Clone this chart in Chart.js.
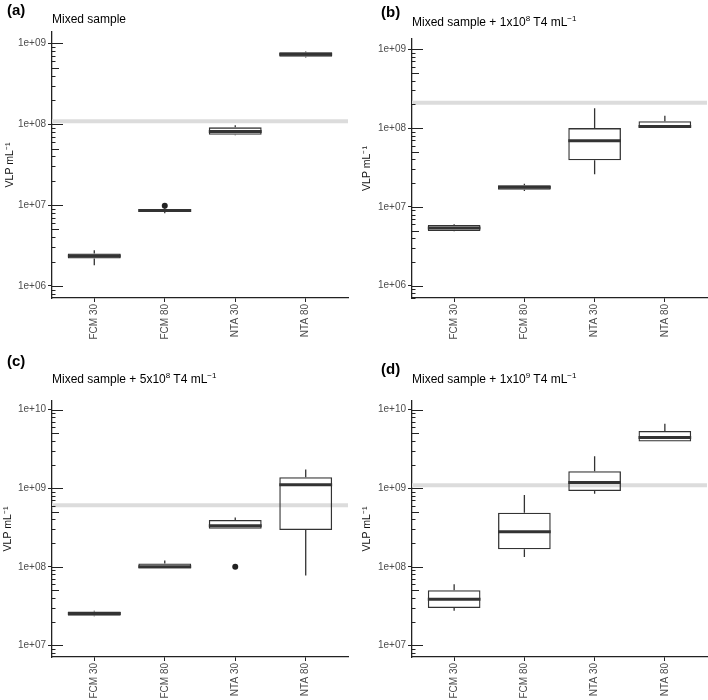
<!DOCTYPE html>
<html>
<head>
<meta charset="utf-8">
<script src="https://cdn.jsdelivr.net/npm/chart.js@4.4.0/dist/chart.umd.min.js"></script>
<style>
  body { margin: 0; background: #fff; }
  #wrap { position: relative; width: 708px; height: 700px; font-family: "Liberation Sans", Arial, sans-serif; }
  canvas { position: absolute; }
  .lab { position: absolute; font-weight: bold; font-size: 15px; line-height: 15px; color: #000; }
  .ttl { position: absolute; font-size: 12px; line-height: 12px; color: #000; white-space: nowrap; }
  .sp { font-size: 8px; position: relative; top: -5px; }
</style>
</head>
<body>
<div id="wrap">
  <canvas id="pa" width="354" height="350" style="left:0;top:0"></canvas>
  <canvas id="pb" width="354" height="350" style="left:354px;top:0"></canvas>
  <canvas id="pc" width="354" height="350" style="left:0;top:350px"></canvas>
  <canvas id="pd" width="354" height="350" style="left:354px;top:350px"></canvas>

  <div class="lab" style="left:7px;top:2px">(a)</div>
  <div class="ttl" style="left:52px;top:13px">Mixed sample</div>
  <div class="lab" style="left:381px;top:4px">(b)</div>
  <div class="ttl" style="left:412px;top:16px">Mixed sample + 1x10<span class="sp">8</span> T4 mL<span class="sp">−1</span></div>
  <div class="lab" style="left:7px;top:353px">(c)</div>
  <div class="ttl" style="left:52px;top:373px">Mixed sample + 5x10<span class="sp">8</span> T4 mL<span class="sp">−1</span></div>
  <div class="lab" style="left:381px;top:361px">(d)</div>
  <div class="ttl" style="left:412px;top:373px">Mixed sample + 1x10<span class="sp">9</span> T4 mL<span class="sp">−1</span></div>
</div>

<script>
var categories = ['FCM 30', 'FCM 80', 'NTA 30', 'NTA 80'];

// (a) Mixed sample
var lowA  = [1.81e6, 7.9e6, 7.3e7, 6.7e8];
var q1A   = [2.19e6, 8.19e6, 7.42e7, 6.84e8];
var medA  = [2.34e6, 8.55e6, 8.15e7, 7.3e8];
var q3A   = [2.52e6, 8.93e6, 9.14e7, 7.74e8];
var highA = [2.77e6, 9.3e6, 9.7e7, 7.9e8];
var outCatA = [2];
var outValA = [9.8e6];
var refA = 1.09e8;
var yTicksA = [1e6, 1e7, 1e8, 1e9];

// (b) + 1x10^8 T4
var lowB  = [4.9e6, 1.59e7, 2.59e7, 1.02e8];
var q1B   = [4.94e6, 1.65e7, 3.9e7, 1.02e8];
var medB  = [5.39e6, 1.77e7, 6.92e7, 1.05e8];
var q3B   = [5.89e6, 1.88e7, 1.0e8, 1.22e8];
var highB = [6.0e6, 1.97e7, 1.78e8, 1.43e8];
var outCatB = [];
var outValB = [];
var refB = 2.09e8;
var yTicksB = [1e6, 1e7, 1e8, 1e9];

// (c) + 5x10^8 T4
var lowC  = [2.35e7, 9.49e7, 3.05e8, 7.73e7];
var q1C   = [2.38e7, 9.49e7, 3.05e8, 2.94e8];
var medC  = [2.54e7, 1.0e8, 3.33e8, 1.11e9];
var q3C   = [2.7e7, 1.1e8, 3.94e8, 1.38e9];
var highC = [2.75e7, 1.2e8, 4.25e8, 1.73e9];
var outCatC = [3];
var outValC = [1.0e8];
var refC = 6.09e8;
var yTicksC = [1e7, 1e8, 1e9, 1e10];

// (d) + 1x10^9 T4
var lowD  = [2.75e7, 1.33e8, 8.5e8, 3.93e9];
var q1D   = [2.98e7, 1.67e8, 9.19e8, 3.93e9];
var medD  = [3.87e7, 2.8e8, 1.18e9, 4.41e9];
var q3D   = [5.04e7, 4.88e8, 1.65e9, 5.36e9];
var highD = [6.0e7, 8.17e8, 2.56e9, 6.64e9];
var outCatD = [];
var outValD = [];
var refD = 1.09e9;
var yTicksD = [1e7, 1e8, 1e9, 1e10];

Chart.defaults.font.family = '"Liberation Sans", Arial, sans-serif';
Chart.defaults.animation = false;

function fmtExp(v) {
    var e = Math.round(Math.log10(v));
    return '1e+' + (e < 10 ? '0' + e : e);
}

function makePanel(p) {
    var ctx = document.getElementById(p.id).getContext('2d');

    var boxData = categories.map(function (c, i) {
        return {x: i + 1, y: [p.q1[i], p.q3[i]]};
    });
    var outData = p.outCat.map(function (c, i) {
        return {x: c, y: p.outVal[i]};
    });

    // reference line, whiskers, medians and log ticks
    var boxExtras = {
        id: 'boxExtras',
        beforeDatasetsDraw: function (chart) {
            var c = chart.ctx, a = chart.chartArea;
            var y = chart.scales.y.getPixelForValue(p.ref);
            c.save();
            c.strokeStyle = '#dcdcdc';
            c.lineWidth = 4;
            c.beginPath();
            c.moveTo(a.left, y);
            c.lineTo(a.right, y);
            c.stroke();
            c.restore();
        },
        afterDatasetsDraw: function (chart) {
            var c = chart.ctx, ys = chart.scales.y, a = chart.chartArea;
            var meta = chart.getDatasetMeta(0);
            c.save();
            c.strokeStyle = '#333';
            meta.data.forEach(function (bar, i) {
                var x = bar.x, half = bar.width / 2;
                c.lineWidth = 1.3;
                c.beginPath();
                c.moveTo(x, ys.getPixelForValue(p.q3[i]));
                c.lineTo(x, ys.getPixelForValue(p.high[i]));
                c.moveTo(x, ys.getPixelForValue(p.q1[i]));
                c.lineTo(x, ys.getPixelForValue(p.low[i]));
                c.stroke();
                var m = ys.getPixelForValue(p.med[i]);
                c.lineWidth = 3;
                c.beginPath();
                c.moveTo(x - half, m);
                c.lineTo(x + half, m);
                c.stroke();
            });

            c.strokeStyle = '#222';
            c.lineWidth = 1;
            var lo = Math.floor(Math.log10(ys.min)), hi = Math.ceil(Math.log10(ys.max));
            for (var d = lo; d <= hi; d++) {
                for (var k = 1; k <= 9; k++) {
                    var v = k * Math.pow(10, d);
                    if (v < ys.min || v > ys.max) continue;
                    var y = Math.round(ys.getPixelForValue(v)) + 0.5;
                    var len = k === 1 ? 11 : (k === 5 ? 7 : 3.5);
                    c.beginPath();
                    c.moveTo(a.left, y);
                    c.lineTo(a.left + len, y);
                    c.stroke();
                }
            }
            c.restore();
        }
    };

    var axisBorder = {display: true, color: '#222', width: 1.3};

    new Chart(ctx, {
        type: 'bar',
        data: {
            datasets: [{
                type: 'bar',
                data: boxData,
                backgroundColor: 'rgba(0,0,0,0)',
                borderColor: '#333',
                borderWidth: 1.3,
                borderSkipped: false,
                barPercentage: 0.75,
                categoryPercentage: 1
            }, {
                type: 'scatter',
                data: outData,
                pointRadius: 3,
                backgroundColor: '#222',
                borderWidth: 0
            }]
        },
        options: {
            responsive: false,
            layout: {padding: {top: p.top, right: 354 - p.right, left: 0, bottom: 0}},
            plugins: {legend: {display: false}, tooltip: {enabled: false}},
            scales: {
                x: {
                    type: 'linear',
                    min: 0.4,
                    max: 4.6,
                    offset: false,
                    afterBuildTicks: function (s) {
                        s.ticks = categories.map(function (c, i) { return {value: i + 1}; });
                    },
                    ticks: {
                        callback: function (v) { return categories[v - 1]; },
                        autoSkip: false,
                        minRotation: 90,
                        maxRotation: 90,
                        padding: 2,
                        color: '#4d4d4d',
                        font: {size: 10}
                    },
                    grid: {display: true, offset: false, drawOnChartArea: false, drawTicks: true, tickLength: 4, tickColor: '#222', tickWidth: 1},
                    border: axisBorder,
                    afterFit: function (s) { s.height = 350 - p.bottom; }
                },
                y: {
                    type: 'logarithmic',
                    min: p.min,
                    max: p.max,
                    afterBuildTicks: function (s) {
                        s.ticks = p.ticks.map(function (v) { return {value: v}; });
                    },
                    ticks: {
                        callback: function (v) { return fmtExp(v); },
                        autoSkip: false,
                        padding: 2,
                        color: '#4d4d4d',
                        font: {size: 10}
                    },
                    grid: {display: true, drawOnChartArea: false, drawTicks: true, tickLength: 4, tickColor: '#222', tickWidth: 1},
                    border: axisBorder,
                    title: {
                        display: true,
                        text: 'VLP mL⁻¹',
                        color: '#111',
                        font: {size: 10.5},
                        padding: {top: p.titlePad, bottom: 0}
                    },
                    afterFit: function (s) { s.width = p.left; }
                }
            }
        },
        plugins: [boxExtras]
    });
}

makePanel({id: 'pa', low: lowA, q1: q1A, med: medA, q3: q3A, high: highA, outCat: outCatA, outVal: outValA,
    ref: refA, ticks: yTicksA, min: 7.1e5, max: 1.38e9, left: 52, top: 32, bottom: 298, right: 348, titlePad: 4});
makePanel({id: 'pb', low: lowB, q1: q1B, med: medB, q3: q3B, high: highB, outCat: outCatB, outVal: outValB,
    ref: refB, ticks: yTicksB, min: 6.98e5, max: 1.35e9, left: 58, top: 39, bottom: 298, right: 353, titlePad: 7});
makePanel({id: 'pc', low: lowC, q1: q1C, med: medC, q3: q3C, high: highC, outCat: outCatC, outVal: outValC,
    ref: refC, ticks: yTicksC, min: 7.1e6, max: 1.29e10, left: 52, top: 51, bottom: 307, right: 348, titlePad: 2});
makePanel({id: 'pd', low: lowD, q1: q1D, med: medD, q3: q3D, high: highD, outCat: outCatD, outVal: outValD,
    ref: refD, ticks: yTicksD, min: 7.1e6, max: 1.29e10, left: 58, top: 51, bottom: 307, right: 353, titlePad: 7});
</script>
</body>
</html>
